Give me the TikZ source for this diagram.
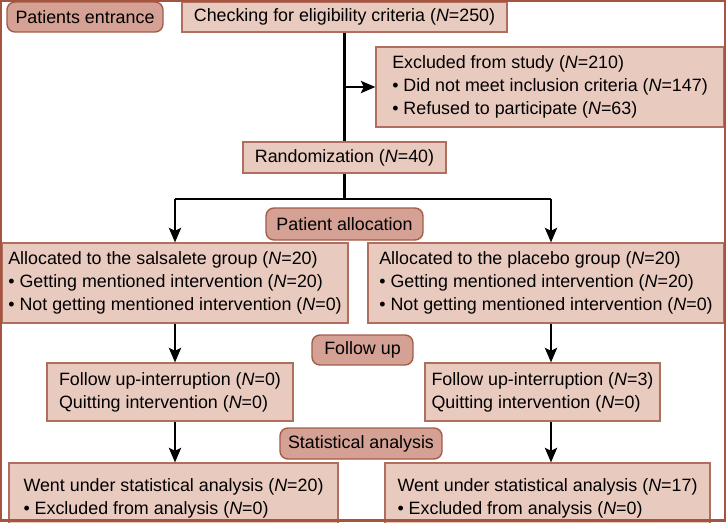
\documentclass[tikz,border=0pt]{standalone}
\usepackage{fontspec}
\setmainfont{Liberation Sans}
\usepackage{tikz}
\usetikzlibrary{arrows.meta}
\definecolor{boxfill}{HTML}{E9CABF}
\definecolor{boxline}{HTML}{B06E5E}
\definecolor{tagfill}{HTML}{D4A194}
\definecolor{tagline}{HTML}{A45C4B}
\definecolor{framecol}{HTML}{A5543F}
\newcommand{\nval}[1]{(\textit{N}=#1)}

\begin{document}
\begin{tikzpicture}[x=0.025cm,y=-0.025cm]
\tikzstyle{every node}+=[font=\fontsize{12.7}{16.2}\selectfont]
\tikzstyle{box}=[draw=boxline,fill=boxfill,line width=0.8pt,inner sep=0pt,align=left]
\tikzstyle{tag}=[draw=tagline,fill=tagfill,line width=1pt,rounded corners=0.2cm,inner sep=0pt,align=center]
\tikzstyle{line}=[line width=2pt]
\tikzstyle{arrow}=[line width=2pt,-{Stealth[length=0.36cm,width=0.3cm,inset=0.07cm]}]
\useasboundingbox (0,0) rectangle (726,522);
\node[tag,minimum width=3.9cm,minimum height=0.75cm] (entr) at (85,17) {Patients entrance};
\node[box,minimum width=8.125cm,minimum height=0.75cm] (check) at (344.5,17) {Checking for eligibility criteria \nval{250}};
\node[box,minimum width=8.7cm,minimum height=2cm] (excl) at (550,87) {Excluded from study \nval{210}\\
\textbullet{} Did not meet inclusion criteria \nval{147}\\
\textbullet{} Refused to participate \nval{63}};
\node[box,align=center,minimum width=5.075cm,minimum height=0.775cm] (rand) at (344.5,157.5) {Randomization \nval{40}};
\node[tag,minimum width=3.925cm,minimum height=0.8cm] (alloc) at (344.5,224) {Patient allocation};
\node[box,minimum width=8.65cm,minimum height=2cm] (salsa) at (175,283) {Allocated to the salsalete group \nval{20}\\
\textbullet{} Getting mentioned intervention \nval{20}\\
\textbullet{} Not getting mentioned intervention \nval{0}};
\node[box,minimum width=8.9cm,minimum height=2cm] (plac) at (546,283) {Allocated to the placebo group \nval{20}\\
\textbullet{} Getting mentioned intervention \nval{20}\\
\textbullet{} Not getting mentioned intervention \nval{0}};
\node[tag,minimum width=2.525cm,minimum height=0.75cm] (fup) at (362.5,350) {Follow up};
\node[box,minimum width=6.15cm,minimum height=1.45cm] (fupL) at (170,392) {Follow up-interruption \nval{0}\\
Quitting intervention \nval{0}};
\node[box,minimum width=5.875cm,minimum height=1.45cm] (fupR) at (542.5,392) {Follow up-interruption \nval{3}\\
Quitting intervention \nval{0}};
\node[tag,minimum width=4.05cm,minimum height=0.775cm] (stat) at (361,443.5) {Statistical analysis};
\node[box,minimum width=8.225cm,minimum height=1.75cm] (statL) at (173.5,498) {Went under statistical analysis \nval{20}\\
\textbullet{} Excluded from analysis \nval{0}};
\node[box,minimum width=8.125cm,minimum height=1.75cm] (statR) at (547.5,498) {Went under statistical analysis \nval{17}\\
\textbullet{} Excluded from analysis \nval{0}};
\coordinate (brk) at (check.south |- excl.west);
\coordinate (split) at (check.south |- 0,199);
\coordinate (lft) at (175,199);
\coordinate (rgt) at (551,199);
\draw[line] (check.south) -- (rand.north);
\draw[arrow] (brk) -- (excl.west);
\draw[line] (rand.south) -- (split);
\draw[line] (lft) -- (rgt);
\draw[arrow] (lft) -- (lft |- salsa.north);
\draw[arrow] (rgt) -- (rgt |- plac.north);
\draw[arrow] (lft |- salsa.south) -- (lft |- fupL.north);
\draw[arrow] (rgt |- plac.south) -- (rgt |- fupR.north);
\draw[arrow] (lft |- fupL.south) -- (lft |- statL.north);
\draw[arrow] (rgt |- fupR.south) -- (rgt |- statR.north);
\draw[framecol,line width=1.4pt] (1,1) -- (725,1) -- (725,520) -- (1,520) -- cycle;
\draw[framecol,line width=2pt] (0,520.5) -- (726,520.5);
\end{tikzpicture}
\end{document}
